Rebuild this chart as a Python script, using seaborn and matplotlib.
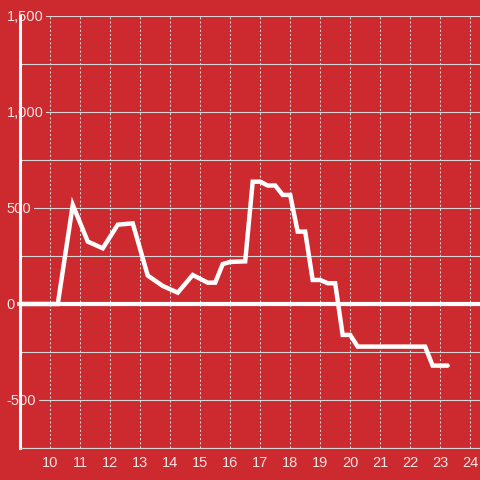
import matplotlib
matplotlib.use("Agg")
import matplotlib.pyplot as plt
import seaborn as sns
import pandas as pd

# hour of day vs value
hours = [9.0, 10.25, 10.75, 11.25, 11.75, 12.25, 12.75, 13.25, 13.75, 14.25,
         14.75, 15.25, 15.5, 15.75, 16.0, 16.5, 16.75, 17.0, 17.25, 17.5,
         17.75, 18.0, 18.25, 18.5, 18.75, 19.0, 19.25, 19.5, 19.75, 20.0,
         20.25, 22.5, 22.75, 23.25]
values = [0, 0, 516, 325, 290, 413, 420, 148, 94, 59,
          151, 111, 111, 208, 219, 222, 637, 637, 617, 617,
          568, 568, 377, 377, 125, 125, 108, 108, -161, -161,
          -222, -222, -321, -321]

yticks = [-500, 0, 500, 1000, 1500]
ytick_labels = ["-500", "0", "500", "1,000", "1,500"]
xticks = list(range(10, 25))

red = "#cc2a2f"
grid_col = "#d6d6d6"

sns.set_theme(style="white")
plt.rcParams["font.family"] = ["Liberation Sans", "DejaVu Sans"]

df = pd.DataFrame({"hour": hours, "value": values})

fig = plt.figure(figsize=(4.8, 4.8), dpi=100, facecolor=red)
ax = fig.add_axes([0.0423, 0.0667, 0.9577, 0.9])
ax.set_facecolor(red)

ax.axhline(0, color="white", lw=3, zorder=1.8)
sns.lineplot(data=df, x="hour", y="value", ax=ax, color="white", lw=3.2,
             zorder=3, solid_joinstyle="miter")

ax.set_xlim(9.0, 24.33)
ax.set_ylim(-750, 1500)
ax.set_xlabel("")
ax.set_ylabel("")

ax.set_xticks(xticks)
ax.set_xticklabels([str(x) for x in xticks])
ax.set_yticks(yticks)
ax.set_yticklabels(ytick_labels)
ax.set_yticks([-750, -250, 250, 750, 1250], minor=True)

ax.grid(True, axis="y", which="both", color=grid_col, lw=0.8)
ax.grid(True, axis="x", which="major", color=grid_col, lw=0.75, ls=(0, (2, 2)))

ax.tick_params(axis="x", length=0, pad=6, labelsize=10.5, colors="#f3e4e4")
ax.tick_params(axis="y", which="major", left=True, length=10, width=0.8,
               color=grid_col, pad=0, labelsize=10.5, labelcolor="#f3e4e4")
ax.tick_params(axis="y", which="minor", left=False, length=0)

for lab in ax.get_yticklabels():
    lab.set_ha("left")
    lab.set_bbox(dict(facecolor=red, edgecolor="none", pad=2))

zero_tick = ax.yaxis.get_major_ticks()[1]
zero_tick.tick1line.set_color("white")
zero_tick.tick1line.set_markeredgewidth(3)

for s in ["top", "right"]:
    ax.spines[s].set_visible(False)
ax.spines["bottom"].set_color(grid_col)
ax.spines["bottom"].set_linewidth(0.8)
ax.spines["left"].set_color("white")
ax.spines["left"].set_linewidth(2.2)
ax.spines["left"].set_zorder(1)

fig.savefig("out.png", dpi=100, facecolor=red)
